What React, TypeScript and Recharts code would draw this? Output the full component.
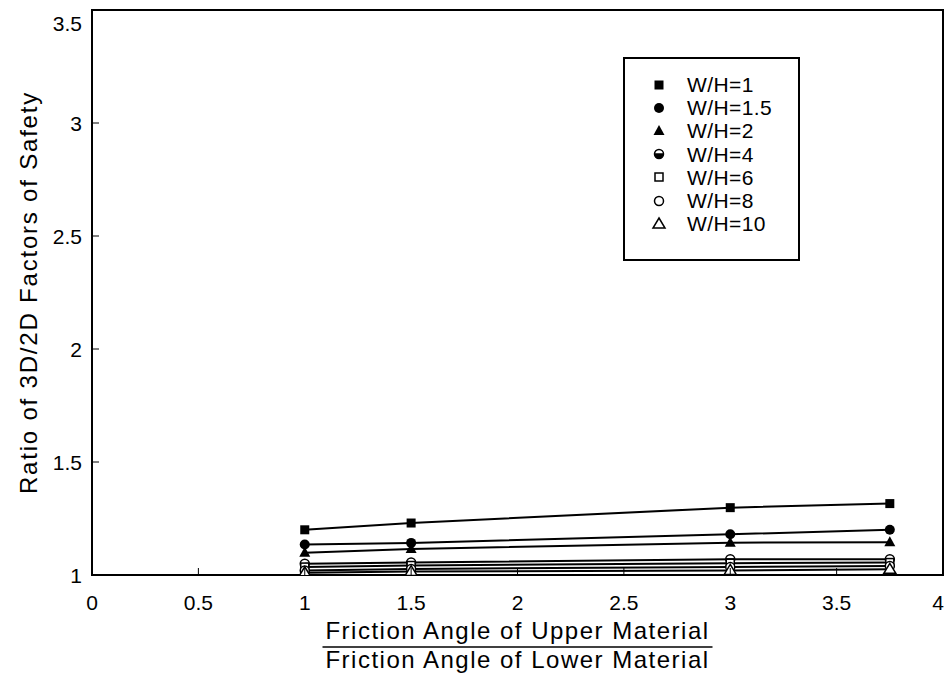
import React from "react";
import { LineChart, Line, XAxis, YAxis, ReferenceArea } from "recharts";

const xValues = [1, 1.5, 3, 3.75];
const wh1 = [1.2, 1.23, 1.298, 1.316];
const wh15 = [1.135, 1.142, 1.18, 1.2];
const wh2 = [1.098, 1.115, 1.143, 1.145];
const wh4 = [1.05, 1.055, 1.07, 1.07];
const wh6 = [1.035, 1.042, 1.052, 1.055];
const wh8 = [1.02, 1.027, 1.035, 1.04];
const wh10 = [1.01, 1.015, 1.02, 1.025];

const seriesNames = ["W/H=1", "W/H=1.5", "W/H=2", "W/H=4", "W/H=6", "W/H=8", "W/H=10"];
const seriesValues = [wh1, wh15, wh2, wh4, wh6, wh8, wh10];
const markerKinds = ["squareFilled", "circleFilled", "triangleFilled", "circleHalf", "squareOpen", "circleOpen", "triangleOpen"];

const xTicks = [0, 0.5, 1, 1.5, 2, 2.5, 3, 3.5, 4];
const yTicks = [1, 1.5, 2, 2.5, 3, 3.5];
const xTickLabels = ["0", "0.5", "1", "1.5", "2", "2.5", "3", "3.5", "4"];
const yTickLabels = ["1", "1.5", "2", "2.5", "3", "3.5"];

const FONT = "'Liberation Sans', Arial, sans-serif";

function MarkerShape({ kind, cx, cy }: { kind: string; cx: number; cy: number }) {
  switch (kind) {
    case "squareFilled":
      return <rect x={cx - 4.5} y={cy - 4.5} width={9} height={9} fill="#000" />;
    case "circleFilled":
      return <circle cx={cx} cy={cy} r={5} fill="#000" />;
    case "triangleFilled":
      return <path d={`M${cx},${cy - 6} L${cx + 5.5},${cy + 4} L${cx - 5.5},${cy + 4} Z`} fill="#000" />;
    case "circleHalf":
      return (
        <g>
          <path d={`M${cx - 4.5},${cy} A4.5,4.5 0 0 0 ${cx + 4.5},${cy} Z`} fill="#000" />
          <circle cx={cx} cy={cy} r={4.5} fill="none" stroke="#000" strokeWidth={1.5} />
          <line x1={cx - 4.5} y1={cy} x2={cx + 4.5} y2={cy} stroke="#000" strokeWidth={1.5} />
        </g>
      );
    case "squareOpen":
      return <rect x={cx - 4} y={cy - 4} width={8} height={8} fill="#fff" stroke="#000" strokeWidth={1.5} />;
    case "circleOpen":
      return <circle cx={cx} cy={cy} r={4.5} fill="#fff" stroke="#000" strokeWidth={1.5} />;
    case "triangleOpen":
      return <path d={`M${cx},${cy - 6} L${cx + 6},${cy + 4} L${cx - 6},${cy + 4} Z`} fill="#fff" stroke="#000" strokeWidth={1.5} />;
    default:
      return null;
  }
}

const XTick = (props: any) => {
  const { x, y, index } = props;
  const isLast = index === xTickLabels.length - 1;
  return (
    <g>
      <line x1={x} y1={y} x2={x} y2={y - 7} stroke="#000" strokeWidth={1} />
      <text
        x={isLast ? x + 1 : x}
        y={y + 35}
        textAnchor={isLast ? "end" : "middle"}
        fontFamily={FONT}
        fontSize={21}
        fill="#000"
      >
        {xTickLabels[index]}
      </text>
    </g>
  );
};

const YTick = (props: any) => {
  const { x, y, index } = props;
  const ty = Math.max(y + 8, 23);
  return (
    <g>
      <line x1={x} y1={y} x2={x + 7} y2={y} stroke="#000" strokeWidth={1} />
      <text x={x - 10} y={ty} textAnchor="end" fontFamily={FONT} fontSize={21} fill="#000">
        {yTickLabels[index]}
      </text>
    </g>
  );
};

const XLabel = (props: any) => {
  const vb = props.viewBox || {};
  const cx = (vb.x || 0) + (vb.width || 0) / 2;
  const y = vb.y || 0;
  return (
    <g>
      <text x={cx} y={y + 64} textAnchor="middle" fontFamily={FONT} fontSize={24} letterSpacing={1.5} fill="#000">
        Friction Angle of Upper Material
      </text>
      <line x1={cx - 195} y1={y + 72} x2={cx + 195} y2={y + 72} stroke="#000" strokeWidth={1.5} />
      <text x={cx} y={y + 93} textAnchor="middle" fontFamily={FONT} fontSize={24} letterSpacing={1.5} fill="#000">
        Friction Angle of Lower Material
      </text>
    </g>
  );
};

const YLabel = (props: any) => {
  const vb = props.viewBox || {};
  const cy = (vb.y || 0) + (vb.height || 0) / 2;
  const cx = 20;
  return (
    <text
      x={cx}
      y={cy}
      transform={`rotate(-90, ${cx}, ${cy})`}
      textAnchor="middle"
      dominantBaseline="central"
      fontFamily={FONT}
      fontSize={24}
      letterSpacing={1.8}
      fill="#000"
    >
      Ratio of 3D/2D Factors of Safety
    </text>
  );
};

const LegendBox = () => (
  <div
    style={{
      position: "absolute",
      left: 615,
      top: 49,
      border: "2px solid #000",
      background: "#fff",
      width: 173,
      height: 186,
      boxSizing: "content-box",
      paddingTop: 14,
      fontFamily: FONT,
    }}
  >
    {seriesNames.map((name, i) => (
      <div key={name} style={{ display: "flex", alignItems: "center", height: 23.2 }}>
        <svg width={16} height={16} style={{ marginLeft: 26, marginRight: 20 }}>
          <MarkerShape kind={markerKinds[i]} cx={8} cy={8} />
        </svg>
        <span style={{ fontSize: 21, letterSpacing: 0.4, color: "#000", lineHeight: "21px" }}>{name}</span>
      </div>
    ))}
  </div>
);

export default function App() {
  return (
    <div style={{ position: "relative", width: 936, height: 667 }}>
      <LineChart width={936} height={667} margin={{ top: 2, right: 1, left: 0, bottom: 0 }}>
        <XAxis
          type="number"
          dataKey="x"
          domain={[0, 4]}
          ticks={xTicks}
          allowDataOverflow
          height={100}
          tickLine={false}
          tickSize={0}
          tickMargin={0}
          axisLine={{ stroke: "#000", strokeWidth: 2 }}
          tick={<XTick />}
          interval={0}
          label={{ content: XLabel } as any}
        />
        <YAxis
          type="number"
          domain={[1, 3.5]}
          ticks={yTicks}
          allowDataOverflow
          width={84}
          tickLine={false}
          tickSize={0}
          tickMargin={0}
          axisLine={{ stroke: "#000", strokeWidth: 2 }}
          tick={<YTick />}
          interval={0}
          label={{ content: YLabel } as any}
        />
        <ReferenceArea x1={0} x2={4} y1={1} y2={3.5} fill="none" stroke="#000" strokeWidth={2} ifOverflow="visible" />
        {seriesValues.map((vals, i) => (
          <Line
            key={seriesNames[i]}
            name={seriesNames[i]}
            data={xValues.map((x, j) => ({ x, y: vals[j] }))}
            dataKey="y"
            stroke="#000"
            strokeWidth={2}
            isAnimationActive={false}
            dot={(p: any) => <MarkerShape key={`${i}-${p.index}`} kind={markerKinds[i]} cx={p.cx} cy={p.cy} />}
            activeDot={false}
          />
        ))}
      </LineChart>
      <LegendBox />
    </div>
  );
}
